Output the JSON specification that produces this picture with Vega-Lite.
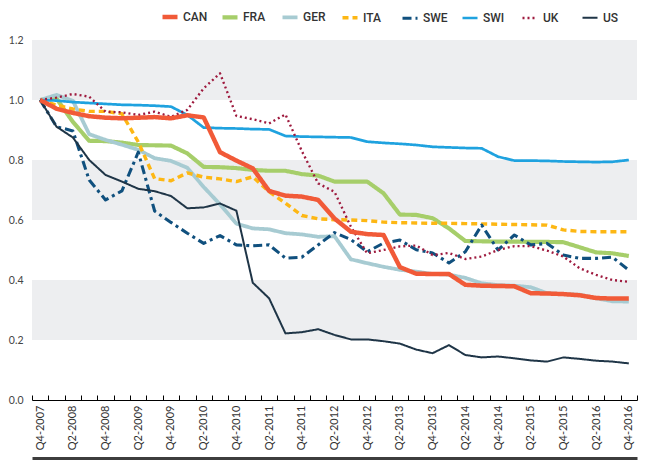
{
  "$schema": "https://vega.github.io/schema/vega-lite/v6.json",
  "width": 605,
  "height": 360,
  "autosize": {"type": "none"},
  "padding": {"left": 32, "top": 40, "right": 13, "bottom": 65},
  "background": "white",
  "config": {
    "view": {"stroke": null},
    "axisY": {"grid": false, "domain": false, "ticks": false, "labelColor": "#444444", "labelFont": "Lato", "labelFontSize": 10.5, "labelPadding": 9},
    "axisX": {"grid": false, "labelColor": "#333333", "labelFont": "Lato", "labelFontSize": 11}
  },
  "datasets": {
    "bands": [{"lo": 0.2, "hi": 0.4}, {"lo": 0.6, "hi": 0.8}, {"lo": 1.0, "hi": 1.2}],
    "series": [
      {"q":"Q4-2007","country":"CAN","v":1.0},{"q":"Q1-2008","country":"CAN","v":0.971},{"q":"Q2-2008","country":"CAN","v":0.957},{"q":"Q3-2008","country":"CAN","v":0.946},{"q":"Q4-2008","country":"CAN","v":0.941},{"q":"Q1-2009","country":"CAN","v":0.939},{"q":"Q2-2009","country":"CAN","v":0.941},{"q":"Q3-2009","country":"CAN","v":0.943},{"q":"Q4-2009","country":"CAN","v":0.939},{"q":"Q1-2010","country":"CAN","v":0.949},{"q":"Q2-2010","country":"CAN","v":0.942},{"q":"Q3-2010","country":"CAN","v":0.826},{"q":"Q4-2010","country":"CAN","v":0.798},{"q":"Q1-2011","country":"CAN","v":0.772},{"q":"Q2-2011","country":"CAN","v":0.697},{"q":"Q3-2011","country":"CAN","v":0.681},{"q":"Q4-2011","country":"CAN","v":0.678},{"q":"Q1-2012","country":"CAN","v":0.667},{"q":"Q2-2012","country":"CAN","v":0.605},{"q":"Q3-2012","country":"CAN","v":0.561},{"q":"Q4-2012","country":"CAN","v":0.553},{"q":"Q1-2013","country":"CAN","v":0.55},{"q":"Q2-2013","country":"CAN","v":0.443},{"q":"Q3-2013","country":"CAN","v":0.421},{"q":"Q4-2013","country":"CAN","v":0.42},{"q":"Q1-2014","country":"CAN","v":0.42},{"q":"Q2-2014","country":"CAN","v":0.384},{"q":"Q3-2014","country":"CAN","v":0.381},{"q":"Q4-2014","country":"CAN","v":0.38},{"q":"Q1-2015","country":"CAN","v":0.379},{"q":"Q2-2015","country":"CAN","v":0.356},{"q":"Q3-2015","country":"CAN","v":0.355},{"q":"Q4-2015","country":"CAN","v":0.353},{"q":"Q1-2016","country":"CAN","v":0.349},{"q":"Q2-2016","country":"CAN","v":0.34},{"q":"Q3-2016","country":"CAN","v":0.338},{"q":"Q4-2016","country":"CAN","v":0.338},
      {"q":"Q4-2007","country":"FRA","v":1.0},{"q":"Q1-2008","country":"FRA","v":1.005},{"q":"Q2-2008","country":"FRA","v":0.927},{"q":"Q3-2008","country":"FRA","v":0.864},{"q":"Q4-2008","country":"FRA","v":0.863},{"q":"Q1-2009","country":"FRA","v":0.858},{"q":"Q2-2009","country":"FRA","v":0.85},{"q":"Q3-2009","country":"FRA","v":0.849},{"q":"Q4-2009","country":"FRA","v":0.848},{"q":"Q1-2010","country":"FRA","v":0.822},{"q":"Q2-2010","country":"FRA","v":0.777},{"q":"Q3-2010","country":"FRA","v":0.776},{"q":"Q4-2010","country":"FRA","v":0.773},{"q":"Q1-2011","country":"FRA","v":0.767},{"q":"Q2-2011","country":"FRA","v":0.764},{"q":"Q3-2011","country":"FRA","v":0.764},{"q":"Q4-2011","country":"FRA","v":0.753},{"q":"Q1-2012","country":"FRA","v":0.748},{"q":"Q2-2012","country":"FRA","v":0.728},{"q":"Q3-2012","country":"FRA","v":0.728},{"q":"Q4-2012","country":"FRA","v":0.728},{"q":"Q1-2013","country":"FRA","v":0.689},{"q":"Q2-2013","country":"FRA","v":0.618},{"q":"Q3-2013","country":"FRA","v":0.617},{"q":"Q4-2013","country":"FRA","v":0.606},{"q":"Q1-2014","country":"FRA","v":0.572},{"q":"Q2-2014","country":"FRA","v":0.53},{"q":"Q3-2014","country":"FRA","v":0.529},{"q":"Q4-2014","country":"FRA","v":0.528},{"q":"Q1-2015","country":"FRA","v":0.528},{"q":"Q2-2015","country":"FRA","v":0.527},{"q":"Q3-2015","country":"FRA","v":0.527},{"q":"Q4-2015","country":"FRA","v":0.526},{"q":"Q1-2016","country":"FRA","v":0.509},{"q":"Q2-2016","country":"FRA","v":0.492},{"q":"Q3-2016","country":"FRA","v":0.489},{"q":"Q4-2016","country":"FRA","v":0.48},
      {"q":"Q4-2007","country":"GER","v":1.0},{"q":"Q1-2008","country":"GER","v":1.017},{"q":"Q2-2008","country":"GER","v":0.997},{"q":"Q3-2008","country":"GER","v":0.886},{"q":"Q4-2008","country":"GER","v":0.867},{"q":"Q1-2009","country":"GER","v":0.851},{"q":"Q2-2009","country":"GER","v":0.834},{"q":"Q3-2009","country":"GER","v":0.806},{"q":"Q4-2009","country":"GER","v":0.797},{"q":"Q1-2010","country":"GER","v":0.774},{"q":"Q2-2010","country":"GER","v":0.71},{"q":"Q3-2010","country":"GER","v":0.652},{"q":"Q4-2010","country":"GER","v":0.588},{"q":"Q1-2011","country":"GER","v":0.572},{"q":"Q2-2011","country":"GER","v":0.569},{"q":"Q3-2011","country":"GER","v":0.556},{"q":"Q4-2011","country":"GER","v":0.552},{"q":"Q1-2012","country":"GER","v":0.544},{"q":"Q2-2012","country":"GER","v":0.546},{"q":"Q3-2012","country":"GER","v":0.469},{"q":"Q4-2012","country":"GER","v":0.456},{"q":"Q1-2013","country":"GER","v":0.444},{"q":"Q2-2013","country":"GER","v":0.434},{"q":"Q3-2013","country":"GER","v":0.428},{"q":"Q4-2013","country":"GER","v":0.42},{"q":"Q1-2014","country":"GER","v":0.418},{"q":"Q2-2014","country":"GER","v":0.407},{"q":"Q3-2014","country":"GER","v":0.389},{"q":"Q4-2014","country":"GER","v":0.383},{"q":"Q1-2015","country":"GER","v":0.381},{"q":"Q2-2015","country":"GER","v":0.376},{"q":"Q3-2015","country":"GER","v":0.356},{"q":"Q4-2015","country":"GER","v":0.353},{"q":"Q1-2016","country":"GER","v":0.351},{"q":"Q2-2016","country":"GER","v":0.339},{"q":"Q3-2016","country":"GER","v":0.329},{"q":"Q4-2016","country":"GER","v":0.328},
      {"q":"Q4-2007","country":"ITA","v":1.0},{"q":"Q1-2008","country":"ITA","v":0.983},{"q":"Q2-2008","country":"ITA","v":0.97},{"q":"Q3-2008","country":"ITA","v":0.962},{"q":"Q4-2008","country":"ITA","v":0.962},{"q":"Q1-2009","country":"ITA","v":0.954},{"q":"Q2-2009","country":"ITA","v":0.86},{"q":"Q3-2009","country":"ITA","v":0.738},{"q":"Q4-2009","country":"ITA","v":0.731},{"q":"Q1-2010","country":"ITA","v":0.757},{"q":"Q2-2010","country":"ITA","v":0.743},{"q":"Q3-2010","country":"ITA","v":0.737},{"q":"Q4-2010","country":"ITA","v":0.728},{"q":"Q1-2011","country":"ITA","v":0.744},{"q":"Q2-2011","country":"ITA","v":0.694},{"q":"Q3-2011","country":"ITA","v":0.656},{"q":"Q4-2011","country":"ITA","v":0.615},{"q":"Q1-2012","country":"ITA","v":0.604},{"q":"Q2-2012","country":"ITA","v":0.601},{"q":"Q3-2012","country":"ITA","v":0.6},{"q":"Q4-2012","country":"ITA","v":0.598},{"q":"Q1-2013","country":"ITA","v":0.593},{"q":"Q2-2013","country":"ITA","v":0.591},{"q":"Q3-2013","country":"ITA","v":0.59},{"q":"Q4-2013","country":"ITA","v":0.589},{"q":"Q1-2014","country":"ITA","v":0.589},{"q":"Q2-2014","country":"ITA","v":0.588},{"q":"Q3-2014","country":"ITA","v":0.587},{"q":"Q4-2014","country":"ITA","v":0.586},{"q":"Q1-2015","country":"ITA","v":0.585},{"q":"Q2-2015","country":"ITA","v":0.584},{"q":"Q3-2015","country":"ITA","v":0.583},{"q":"Q4-2015","country":"ITA","v":0.567},{"q":"Q1-2016","country":"ITA","v":0.562},{"q":"Q2-2016","country":"ITA","v":0.561},{"q":"Q3-2016","country":"ITA","v":0.561},{"q":"Q4-2016","country":"ITA","v":0.561},
      {"q":"Q4-2007","country":"SWE","v":1.0},{"q":"Q1-2008","country":"SWE","v":0.911},{"q":"Q2-2008","country":"SWE","v":0.897},{"q":"Q3-2008","country":"SWE","v":0.733},{"q":"Q4-2008","country":"SWE","v":0.667},{"q":"Q1-2009","country":"SWE","v":0.697},{"q":"Q2-2009","country":"SWE","v":0.826},{"q":"Q3-2009","country":"SWE","v":0.63},{"q":"Q4-2009","country":"SWE","v":0.592},{"q":"Q1-2010","country":"SWE","v":0.556},{"q":"Q2-2010","country":"SWE","v":0.522},{"q":"Q3-2010","country":"SWE","v":0.548},{"q":"Q4-2010","country":"SWE","v":0.517},{"q":"Q1-2011","country":"SWE","v":0.514},{"q":"Q2-2011","country":"SWE","v":0.517},{"q":"Q3-2011","country":"SWE","v":0.473},{"q":"Q4-2011","country":"SWE","v":0.476},{"q":"Q1-2012","country":"SWE","v":0.517},{"q":"Q2-2012","country":"SWE","v":0.558},{"q":"Q3-2012","country":"SWE","v":0.535},{"q":"Q4-2012","country":"SWE","v":0.494},{"q":"Q1-2013","country":"SWE","v":0.523},{"q":"Q2-2013","country":"SWE","v":0.533},{"q":"Q3-2013","country":"SWE","v":0.501},{"q":"Q4-2013","country":"SWE","v":0.49},{"q":"Q1-2014","country":"SWE","v":0.457},{"q":"Q2-2014","country":"SWE","v":0.494},{"q":"Q3-2014","country":"SWE","v":0.583},{"q":"Q4-2014","country":"SWE","v":0.5},{"q":"Q1-2015","country":"SWE","v":0.55},{"q":"Q2-2015","country":"SWE","v":0.517},{"q":"Q3-2015","country":"SWE","v":0.522},{"q":"Q4-2015","country":"SWE","v":0.483},{"q":"Q1-2016","country":"SWE","v":0.472},{"q":"Q2-2016","country":"SWE","v":0.472},{"q":"Q3-2016","country":"SWE","v":0.476},{"q":"Q4-2016","country":"SWE","v":0.433},
      {"q":"Q4-2007","country":"SWI","v":1.0},{"q":"Q1-2008","country":"SWI","v":0.998},{"q":"Q2-2008","country":"SWI","v":0.993},{"q":"Q3-2008","country":"SWI","v":0.99},{"q":"Q4-2008","country":"SWI","v":0.987},{"q":"Q1-2009","country":"SWI","v":0.984},{"q":"Q2-2009","country":"SWI","v":0.983},{"q":"Q3-2009","country":"SWI","v":0.981},{"q":"Q4-2009","country":"SWI","v":0.978},{"q":"Q1-2010","country":"SWI","v":0.95},{"q":"Q2-2010","country":"SWI","v":0.908},{"q":"Q3-2010","country":"SWI","v":0.906},{"q":"Q4-2010","country":"SWI","v":0.905},{"q":"Q1-2011","country":"SWI","v":0.903},{"q":"Q2-2011","country":"SWI","v":0.902},{"q":"Q3-2011","country":"SWI","v":0.88},{"q":"Q4-2011","country":"SWI","v":0.878},{"q":"Q1-2012","country":"SWI","v":0.877},{"q":"Q2-2012","country":"SWI","v":0.876},{"q":"Q3-2012","country":"SWI","v":0.875},{"q":"Q4-2012","country":"SWI","v":0.861},{"q":"Q1-2013","country":"SWI","v":0.857},{"q":"Q2-2013","country":"SWI","v":0.854},{"q":"Q3-2013","country":"SWI","v":0.85},{"q":"Q4-2013","country":"SWI","v":0.844},{"q":"Q1-2014","country":"SWI","v":0.842},{"q":"Q2-2014","country":"SWI","v":0.84},{"q":"Q3-2014","country":"SWI","v":0.839},{"q":"Q4-2014","country":"SWI","v":0.811},{"q":"Q1-2015","country":"SWI","v":0.798},{"q":"Q2-2015","country":"SWI","v":0.798},{"q":"Q3-2015","country":"SWI","v":0.797},{"q":"Q4-2015","country":"SWI","v":0.795},{"q":"Q1-2016","country":"SWI","v":0.794},{"q":"Q2-2016","country":"SWI","v":0.793},{"q":"Q3-2016","country":"SWI","v":0.794},{"q":"Q4-2016","country":"SWI","v":0.8},
      {"q":"Q4-2007","country":"UK","v":1.0},{"q":"Q1-2008","country":"UK","v":1.008},{"q":"Q2-2008","country":"UK","v":1.02},{"q":"Q3-2008","country":"UK","v":1.011},{"q":"Q4-2008","country":"UK","v":0.961},{"q":"Q1-2009","country":"UK","v":0.959},{"q":"Q2-2009","country":"UK","v":0.95},{"q":"Q3-2009","country":"UK","v":0.961},{"q":"Q4-2009","country":"UK","v":0.944},{"q":"Q1-2010","country":"UK","v":0.967},{"q":"Q2-2010","country":"UK","v":1.039},{"q":"Q3-2010","country":"UK","v":1.089},{"q":"Q4-2010","country":"UK","v":0.947},{"q":"Q1-2011","country":"UK","v":0.936},{"q":"Q2-2011","country":"UK","v":0.922},{"q":"Q3-2011","country":"UK","v":0.952},{"q":"Q4-2011","country":"UK","v":0.83},{"q":"Q1-2012","country":"UK","v":0.722},{"q":"Q2-2012","country":"UK","v":0.694},{"q":"Q3-2012","country":"UK","v":0.578},{"q":"Q4-2012","country":"UK","v":0.489},{"q":"Q1-2013","country":"UK","v":0.5},{"q":"Q2-2013","country":"UK","v":0.512},{"q":"Q3-2013","country":"UK","v":0.515},{"q":"Q4-2013","country":"UK","v":0.483},{"q":"Q1-2014","country":"UK","v":0.49},{"q":"Q2-2014","country":"UK","v":0.47},{"q":"Q3-2014","country":"UK","v":0.478},{"q":"Q4-2014","country":"UK","v":0.5},{"q":"Q1-2015","country":"UK","v":0.513},{"q":"Q2-2015","country":"UK","v":0.513},{"q":"Q3-2015","country":"UK","v":0.498},{"q":"Q4-2015","country":"UK","v":0.478},{"q":"Q1-2016","country":"UK","v":0.439},{"q":"Q2-2016","country":"UK","v":0.417},{"q":"Q3-2016","country":"UK","v":0.4},{"q":"Q4-2016","country":"UK","v":0.394},
      {"q":"Q4-2007","country":"US","v":1.0},{"q":"Q1-2008","country":"US","v":0.911},{"q":"Q2-2008","country":"US","v":0.875},{"q":"Q3-2008","country":"US","v":0.8},{"q":"Q4-2008","country":"US","v":0.75},{"q":"Q1-2009","country":"US","v":0.728},{"q":"Q2-2009","country":"US","v":0.704},{"q":"Q3-2009","country":"US","v":0.696},{"q":"Q4-2009","country":"US","v":0.68},{"q":"Q1-2010","country":"US","v":0.639},{"q":"Q2-2010","country":"US","v":0.642},{"q":"Q3-2010","country":"US","v":0.655},{"q":"Q4-2010","country":"US","v":0.631},{"q":"Q1-2011","country":"US","v":0.391},{"q":"Q2-2011","country":"US","v":0.339},{"q":"Q3-2011","country":"US","v":0.222},{"q":"Q4-2011","country":"US","v":0.226},{"q":"Q1-2012","country":"US","v":0.236},{"q":"Q2-2012","country":"US","v":0.217},{"q":"Q3-2012","country":"US","v":0.202},{"q":"Q4-2012","country":"US","v":0.202},{"q":"Q1-2013","country":"US","v":0.196},{"q":"Q2-2013","country":"US","v":0.188},{"q":"Q3-2013","country":"US","v":0.168},{"q":"Q4-2013","country":"US","v":0.156},{"q":"Q1-2014","country":"US","v":0.183},{"q":"Q2-2014","country":"US","v":0.15},{"q":"Q3-2014","country":"US","v":0.142},{"q":"Q4-2014","country":"US","v":0.145},{"q":"Q1-2015","country":"US","v":0.139},{"q":"Q2-2015","country":"US","v":0.132},{"q":"Q3-2015","country":"US","v":0.128},{"q":"Q4-2015","country":"US","v":0.142},{"q":"Q1-2016","country":"US","v":0.137},{"q":"Q2-2016","country":"US","v":0.131},{"q":"Q3-2016","country":"US","v":0.128},{"q":"Q4-2016","country":"US","v":0.122}
    ]
  },
  "layer": [
    {
      "data": {"name": "bands"},
      "mark": {"type": "rect", "color": "#EDEEF0"},
      "encoding": {
        "y": {"field": "lo", "type": "quantitative", "scale": {"domain": [0, 1.2], "nice": false, "zero": true}, "axis": {"title": null, "values": [0, 0.2, 0.4, 0.6, 0.8, 1.0, 1.2], "format": ".1f"}},
        "y2": {"field": "hi"}
      }
    },
    {
      "data": {"name": "series"},
      "transform": [{"filter": "datum.country !== 'CAN'"}],
      "mark": {"type": "line", "strokeJoin": "round"},
      "encoding": {
        "x": {"field": "q", "type": "nominal", "sort": null,
              "scale": {"type": "band", "paddingInner": 0, "paddingOuter": 0, "domain": ["Q4-2007","Q1-2008","Q2-2008","Q3-2008","Q4-2008","Q1-2009","Q2-2009","Q3-2009","Q4-2009","Q1-2010","Q2-2010","Q3-2010","Q4-2010","Q1-2011","Q2-2011","Q3-2011","Q4-2011","Q1-2012","Q2-2012","Q3-2012","Q4-2012","Q1-2013","Q2-2013","Q3-2013","Q4-2013","Q1-2014","Q2-2014","Q3-2014","Q4-2014","Q1-2015","Q2-2015","Q3-2015","Q4-2015","Q1-2016","Q2-2016","Q3-2016","Q4-2016"]},
              "axis": {"title": null, "tickBand": "extent", "labelAngle": -90, "labelOverlap": false, "labelExpr": "(indexof(datum.label, 'Q1') === 0 || indexof(datum.label, 'Q3') === 0) ? '' : datum.label", "tickSize": -5, "labelPadding": 10, "domainColor": "#000000", "tickColor": "#000000", "domainWidth": 1, "tickWidth": 1}},
        "y": {"field": "v", "type": "quantitative", "scale": {"domain": [0, 1.2], "nice": false, "zero": true}, "axis": {"title": null, "values": [0, 0.2, 0.4, 0.6, 0.8, 1.0, 1.2], "format": ".1f"}},
        "color": {"field": "country", "type": "nominal",
                  "scale": {"domain": ["CAN","FRA","GER","ITA","SWE","SWI","UK","US"], "range": ["#F15A38","#A6CE6A","#A7CBD2","#FDB714","#10507E","#1FA2DF","#9E1A3E","#1F3547"]},
                  "legend": {"title": null, "orient": "none", "legendX": 128, "legendY": -33, "direction": "horizontal", "columns": 8, "gridAlign": "all", "columnPadding": 6, "symbolType": "stroke", "symbolSize": 225, "labelFont": "Roboto", "labelFontSize": 12, "labelFontWeight": 500, "labelColor": "#333333", "labelOffset": 3}},
        "strokeDash": {"field": "country", "type": "nominal",
                  "scale": {"domain": ["CAN","FRA","GER","ITA","SWE","SWI","UK","US"], "range": [[1,0],[1,0],[1,0],[6,4],[9,4,3,4],[1,0],[2,3],[1,0]]}},
        "strokeWidth": {"field": "country", "type": "nominal",
                  "scale": {"domain": ["CAN","FRA","GER","ITA","SWE","SWI","UK","US"], "range": [4.5,2,2,2,2,2,2.5,2]}}
      }
    },
    {
      "data": {"name": "series"},
      "transform": [{"filter": "datum.country === 'CAN'"}],
      "mark": {"type": "line", "strokeJoin": "round"},
      "encoding": {
        "x": {"field": "q", "type": "nominal", "sort": null,
              "axis": {"title": null, "orient": "bottom", "offset": 58, "ticks": false, "labels": false, "grid": false, "domainWidth": 3, "domainColor": "#3D3D3D"}},
        "y": {"field": "v", "type": "quantitative", "axis": {"title": null, "values": [0, 0.2, 0.4, 0.6, 0.8, 1.0, 1.2], "format": ".1f"}},
        "color": {"field": "country", "type": "nominal"},
        "strokeDash": {"field": "country", "type": "nominal"},
        "strokeWidth": {"field": "country", "type": "nominal"}
      }
    }
  ],
  "resolve": {"axis": {"x": "independent"}}
}
